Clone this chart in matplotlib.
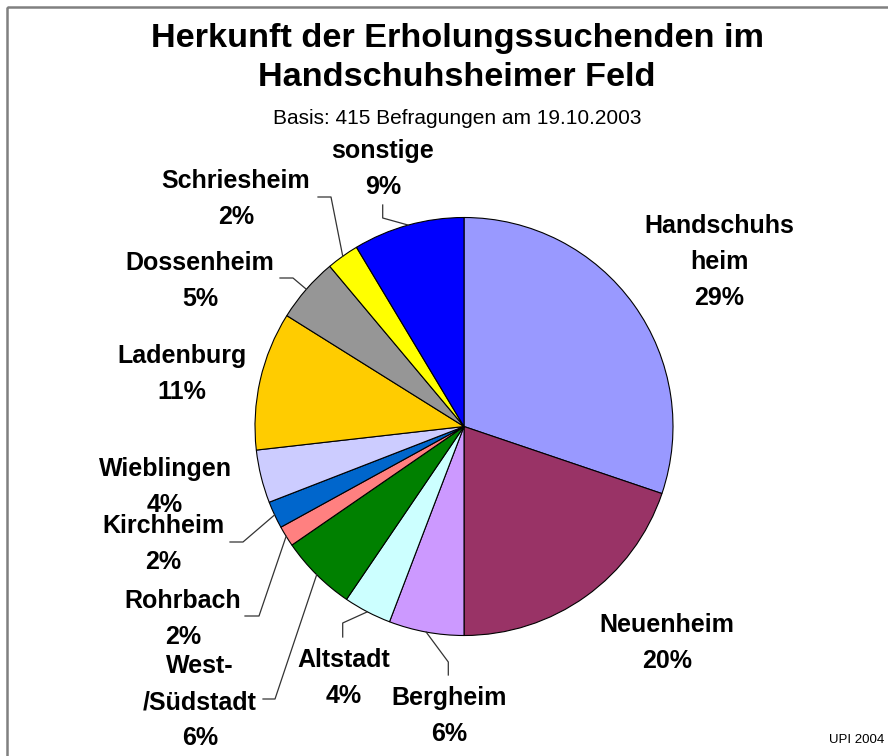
import numpy as np
import matplotlib
matplotlib.use("Agg")
import matplotlib.pyplot as plt
from matplotlib.patches import Rectangle

plt.rcParams['font.family'] = ['Liberation Sans', 'DejaVu Sans']

# Daten (Anteile in %)
orte = ['Handschuhs\nheim', 'Neuenheim', 'Bergheim', 'Altstadt', 'West-\n/Südstadt',
        'Rohrbach', 'Kirchheim', 'Wieblingen', 'Ladenburg', 'Dossenheim',
        'Schriesheim', 'sonstige']
anteile = [30.2, 19.8, 5.8, 3.7, 5.9, 1.6, 2.1, 4.1, 10.7, 5.0, 2.5, 8.6]
prozent_text = ['29%', '20%', '6%', '4%', '6%', '2%', '2%', '4%', '11%', '5%', '2%', '9%']
farben = ['#9999FF', '#993366', '#CC99FF', '#CCFFFF', '#008000', '#FF8080',
          '#0066CC', '#CCCCFF', '#FFCC00', '#969696', '#FFFF00', '#0000FF']

# Layout (Pixel im Bild)
cx, cy, r = 464, 426.5, 209
label_pos = [(719, 262), (667, 643), (449, 716), (344, 678), (200, 702),
             (183, 619), (163, 544), (165, 487), (182, 374), (200, 281),
             (236, 199), (383, 169)]
# Knickpunkte der Fuehrungslinien (None = keine Linie)
leader = [None, None,
          [(448.3, 675), (448.3, 662)],
          [(342.7, 637), (342.7, 623)],
          [(263, 699), (275, 699)],
          [(245, 616), (259, 616)],
          [(230, 542), (243, 542)],
          None, None,
          [(280, 278), (293, 278)],
          [(318, 197), (331, 197)],
          [(382.7, 205), (382.7, 218)]]

fig = plt.figure(figsize=(8.88, 7.56), dpi=100)
ax = fig.add_axes([0, 0, 1, 1])

wedges, _ = ax.pie(anteile, colors=farben, startangle=-90, counterclock=True,
                   center=(cx, cy), radius=r,
                   wedgeprops=dict(edgecolor='black', linewidth=0.8))
ax.set_xlim(0, 888)
ax.set_ylim(756, 0)
ax.set_aspect('equal')
ax.axis('off')

# Beschriftungen
for i, w in enumerate(wedges):
    x, y = label_pos[i]
    ax.text(x, y, orte[i] + '\n' + prozent_text[i], ha='center', va='center',
            fontsize=18, fontweight='bold', linespacing=1.65)
    if leader[i] is not None:
        mid = np.deg2rad((w.theta1 + w.theta2) / 2)
        px = cx + r * np.cos(mid)
        py = cy + r * np.sin(mid)
        xs = [p[0] for p in leader[i]] + [px]
        ys = [p[1] for p in leader[i]] + [py]
        ax.plot(xs, ys, color='#333333', lw=0.9)

# Titel
ax.text(457, 39, 'Herkunft der Erholungssuchenden im', ha='center', va='center',
        fontsize=24.7, fontweight='bold')
ax.text(457, 78, 'Handschuhsheimer Feld', ha='center', va='center',
        fontsize=24.7, fontweight='bold')
ax.text(457, 118, 'Basis: 415 Befragungen am 19.10.2003', ha='center', va='center',
        fontsize=15)
ax.text(884, 740, 'UPI 2004', ha='right', va='center', fontsize=9.5)

# Rahmen
ax.add_patch(Rectangle((7, 7), 950, 800, fill=False, ec='#808080', lw=1.8))

fig.savefig('out.png', dpi=100)
